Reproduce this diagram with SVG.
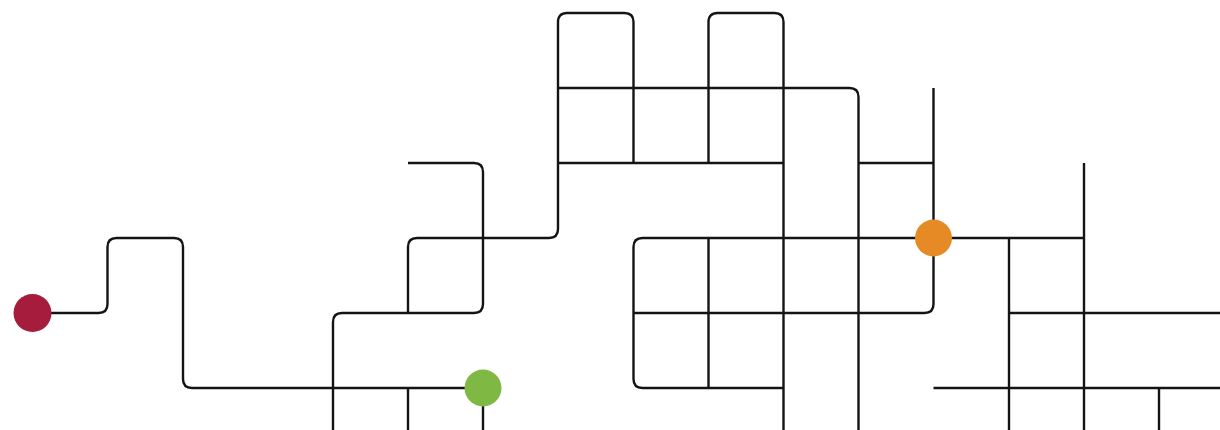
<svg xmlns="http://www.w3.org/2000/svg" width="1220" height="430" viewBox="0 0 1220 430">
<style>
.ln{fill:none;stroke:#141414;stroke-width:2.4;stroke-linecap:butt;stroke-linejoin:round}
</style>
<rect width="1220" height="430" fill="#ffffff"/>
<g id="connectors" class="ln">
<path d="M32.5,313 H98.5 Q107.5,313 107.5,304 V247 Q107.5,238 116.5,238 H174 Q183,238 183,247 V379 Q183,388 192,388 H483"/>
<path d="M408,163 H474 Q483,163 483,172 V304 Q483,313 474,313 H342 Q333,313 333,322 V430"/>
<path d="M408,313 V247 Q408,238 417,238 H549 Q558,238 558,229 V22 Q558,13 567,13 H624.5 Q633.5,13 633.5,22 V163"/>
<path d="M558,163 H783.5"/>
<path d="M708.5,163 V22 Q708.5,13 717.5,13 H774.5 Q783.5,13 783.5,22 V430"/>
<path d="M558,88 H849.5 Q858.5,88 858.5,97 V430"/>
<path d="M858.5,163 H933.5"/>
<path d="M933.5,88 V304 Q933.5,313 924.5,313 H633.5"/>
<path d="M1084,238 H642.5 Q633.5,238 633.5,247 V379 Q633.5,388 642.5,388 H783.5"/>
<path d="M708.5,238 V388"/>
<path d="M1084,163 V430"/>
<path d="M1009,238 V430"/>
<path d="M1009,313 H1220"/>
<path d="M933.5,388 H1220"/>
<path d="M1159,388 V430"/>
<path d="M408,388 V430"/>
<path d="M483,388 V430"/>
</g>
<g id="node-red"><circle cx="32.5" cy="313" r="19" fill="#a61c3c"/></g>
<g id="node-green"><circle cx="483" cy="388" r="18.5" fill="#7fb842"/></g>
<g id="node-orange"><circle cx="933.5" cy="238" r="18.5" fill="#e68a26"/></g>
</svg>
